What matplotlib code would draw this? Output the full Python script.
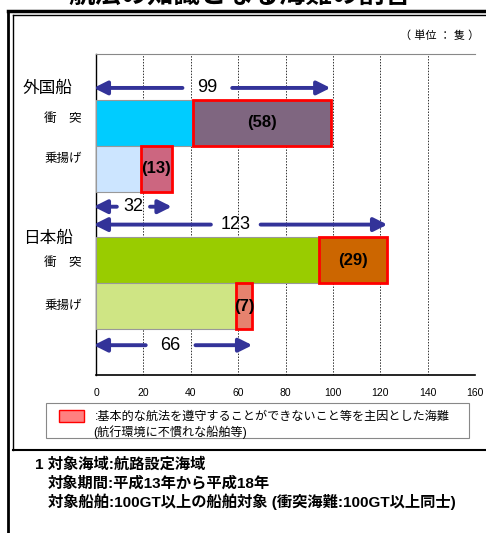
import matplotlib.pyplot as plt
from matplotlib.lines import Line2D
from matplotlib.patches import Rectangle
import matplotlib.transforms as mtransforms

plt.rcParams['font.family'] = ['Liberation Sans', 'Noto Sans CJK JP', 'DejaVu Sans']

W, H = 486, 533

# data
groups = ["外国船", "日本船"]
kinds = ["衝　突", "乗揚げ"]
base_vals = [41, 19, 94, 59]          # other causes
basic_vals = [58, 13, 29, 7]          # basic navigation failures (red-bordered)
totals = [99, 32, 123, 66]
base_colors = ["#00CCFF", "#CCE5FF", "#99CC00", "#CFE584"]
basic_colors = ["#7F6680", "#CC6680", "#CC6600", "#E6826E"]
xticks = [0, 20, 40, 60, 80, 100, 120, 140, 160]

title = "航法の知識となる海難の割合"
unit = "（ 単位 ： 隻 ）"
legend_text = [":基本的な航法を遵守することができないこと等を主因とした海難",
               "(航行環境に不慣れな船舶等)"]
notes = ["1 対象海域:航路設定海域",
         "対象期間:平成13年から平成18年",
         "対象船舶:100GT以上の船舶対象 (衝突海難:100GT以上同士)"]


def fx(px):
    return px / W


def fy(py):
    return 1 - py / H


fig = plt.figure(figsize=(W / 100, H / 100), dpi=100)
ax = fig.add_axes([fx(96), fy(375), fx(475) - fx(96), fy(54) - fy(375)])

# bar rows (one bar height = 1 unit), group gap of one bar
rows = [1.5, 2.5, 4.5, 5.5]
ax.barh(rows, base_vals, height=1.0, color=base_colors,
        edgecolor="#999999", linewidth=0.8, zorder=3)
ax.barh(rows, basic_vals, left=base_vals, height=1.0, color=basic_colors,
        edgecolor="#FF0000", linewidth=2, zorder=4)
for y, b, v in zip(rows, base_vals, basic_vals):
    ax.text(b + v / 2, y, f"({v})", ha="center", va="center",
            fontsize=12, fontweight="bold", zorder=6)

# total arrows, split around the label
arrow_rows = [0.74, 3.33, 3.72, 6.35]
label_pos = [47, 15.8, 59, 31.5]
half_gap = [10.5, 7.0, 10.5, 10.5]
for y, t, lx, g in zip(arrow_rows, totals, label_pos, half_gap):
    for start, end in [(lx - g, -1), (lx + g, t)]:
        ax.annotate("", xy=(end, y), xytext=(start, y),
                    arrowprops=dict(arrowstyle="-|>,head_length=0.8,head_width=0.4",
                                    color="#333399", lw=2.8, shrinkA=0, shrinkB=0),
                    zorder=5, annotation_clip=False)
    ax.text(lx, y, str(t), ha="center", va="center", fontsize=13, zorder=6)

ax.set_xlim(0, 160)
ax.set_ylim(7, 0)
ax.set_xticks(xticks)
ax.set_xticklabels([str(t) for t in xticks], fontsize=7.5)
ax.set_yticks([])
ax.tick_params(axis="x", length=0, pad=9)
for t in xticks[1:]:
    ax.axvline(t, color="#333333", lw=0.7, linestyle=(0, (1.5, 1.5)), zorder=1)
ax.spines["right"].set_visible(False)
ax.spines["top"].set_color("#888888")
ax.spines["top"].set_linewidth(0.8)
ax.spines["left"].set_linewidth(1.0)
ax.spines["bottom"].set_linewidth(1.2)

# category labels
trans = mtransforms.blended_transform_factory(fig.transFigure, ax.transData)
group_rows = [0.74, 4.02]
for g, y in zip(groups, group_rows):
    ax.text(fx(23), y, g, transform=trans, ha="left", va="center", fontsize=12)
kind_rows = [1.42, 2.3, 4.55, 5.5]
for i, y in enumerate(kind_rows):
    ax.text(fx(44), y, kinds[i % 2], transform=trans, ha="left", va="center", fontsize=9)

# title (cut off at the top, as in the source) and unit
fig.text(fx(240), fy(9), title, ha="center", va="bottom", fontsize=19, fontweight="bold")
fig.text(fx(479), fy(36), unit, ha="right", va="center", fontsize=8)

# frame
lines = [
    ([8, 8], [11, H], 2.0),
    ([8, W], [11, 11], 2.5),
    ([13, 13], [15, 450], 1.0),
    ([13, W], [15, 15], 1.0),
    ([13, W], [450, 450], 1.5),
]
for xs, ys, lw in lines:
    fig.add_artist(Line2D([fx(x) for x in xs], [fy(y) for y in ys],
                          color="black", lw=lw, transform=fig.transFigure))

# legend box
fig.add_artist(Rectangle((fx(46), fy(438)), fx(469) - fx(46), fy(403) - fy(438),
                         transform=fig.transFigure, facecolor="white",
                         edgecolor="#888888", lw=0.8))
fig.add_artist(Rectangle((fx(59), fy(422)), fx(84) - fx(59), fy(410) - fy(422),
                         transform=fig.transFigure, facecolor="#FF8080",
                         edgecolor="#FF0000", lw=1))
fig.text(fx(95), fy(417), legend_text[0], ha="left", va="center", fontsize=8.7)
fig.text(fx(93), fy(432), legend_text[1], ha="left", va="center", fontsize=8.7)

# notes
note_x = [35, 48, 48]
for i, n in enumerate(notes):
    fig.text(fx(note_x[i]), fy(465 + 18.5 * i), n, ha="left", va="center",
             fontsize=11, fontweight="bold")

fig.savefig("out.png", dpi=100)
